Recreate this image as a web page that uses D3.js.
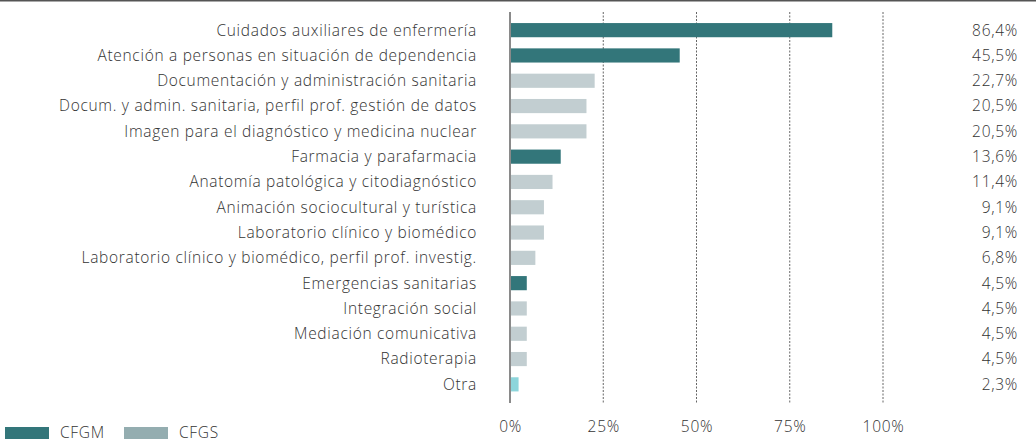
<!DOCTYPE html>
<html>
<head>
<meta charset="utf-8">
<script src="https://cdn.jsdelivr.net/npm/d3@7"></script>
<style>
  html, body { margin: 0; padding: 0; background: #fff; }
  svg { display: block; font-family: "Open Sans", sans-serif; font-weight: 300; }
  svg text { letter-spacing: 0.7px; }
</style>
</head>
<body>
<svg id="chart" width="1036" height="442"></svg>
<script>
// Ciclos formativos: porcentaje por titulación
const categories = [
  "Cuidados auxiliares de enfermería",
  "Atención a personas en situación de dependencia",
  "Documentación y administración sanitaria",
  "Docum. y admin. sanitaria, perfil prof. gestión de datos",
  "Imagen para el diagnóstico y medicina nuclear",
  "Farmacia y parafarmacia",
  "Anatomía patológica y citodiagnóstico",
  "Animación sociocultural y turística",
  "Laboratorio clínico y biomédico",
  "Laboratorio clínico y biomédico, perfil prof. investig.",
  "Emergencias sanitarias",
  "Integración social",
  "Mediación comunicativa",
  "Radioterapia",
  "Otra"
];
const values = [86.4, 45.5, 22.7, 20.5, 20.5, 13.6, 11.4, 9.1, 9.1, 6.8, 4.5, 4.5, 4.5, 4.5, 2.3];
const levels = ["CFGM", "CFGM", "CFGS", "CFGS", "CFGS", "CFGM", "CFGS", "CFGS", "CFGS", "CFGS", "CFGM", "CFGS", "CFGS", "CFGS", "Otra"];
const tickValues = [0, 25, 50, 75, 100];
const legendItems = ["CFGM", "CFGS"];

const barColor = { CFGM: "#33767a", CFGS: "#c2ced1", Otra: "#8dd5db" };
const legendColor = { CFGM: "#33767a", CFGS: "#94adb0" };

const svg = d3.select("#chart");
const W = 1036;

// top rule
svg.append("line").attr("x1", 0).attr("x2", W).attr("y1", 0.75).attr("y2", 0.75)
  .attr("stroke", "#555").attr("stroke-width", 1.5);

const x = d3.scaleLinear().domain([0, 100]).range([510, 883]);
const y = d3.scaleBand().domain(categories).range([17.5, 397]).paddingInner(0.44).paddingOuter(0.22);

const gridTop = 12, gridBottom = 403;

// gridlines
svg.append("g").selectAll("line").data(tickValues.slice(1)).join("line")
  .attr("x1", d => x(d)).attr("x2", d => x(d))
  .attr("y1", gridTop).attr("y2", gridBottom)
  .attr("stroke", "#666").attr("stroke-width", 1)
  .attr("stroke-dasharray", "2,1.5");

// bars
svg.append("g").selectAll("rect").data(categories).join("rect")
  .attr("x", x(0))
  .attr("y", d => y(d))
  .attr("width", (d, i) => x(values[i]) - x(0))
  .attr("height", y.bandwidth())
  .attr("fill", (d, i) => barColor[levels[i]]);

// baseline
svg.append("line").attr("x1", x(0)).attr("x2", x(0))
  .attr("y1", gridTop).attr("y2", gridBottom)
  .attr("stroke", "#8a8a8a").attr("stroke-width", 2);

// category labels
svg.append("g").selectAll("text").data(categories).join("text")
  .attr("x", 477)
  .attr("y", d => y(d) + y.bandwidth() / 2)
  .attr("dy", "0.35em")
  .attr("text-anchor", "end")
  .attr("font-size", 15.5)
  .attr("fill", "#333")
  .text(d => d);

// value labels
const fmt = v => d3.format(".1f")(v).replace(".", ",") + "%";
svg.append("g").selectAll("text").data(values).join("text")
  .attr("x", 1018)
  .attr("y", (d, i) => y(categories[i]) + y.bandwidth() / 2)
  .attr("dy", "0.35em")
  .attr("text-anchor", "end")
  .attr("font-size", 15.5)
  .attr("fill", "#333")
  .text(d => fmt(d));

// axis tick labels
const axis = d3.axisBottom(x).tickValues(tickValues).tickFormat(d => d + "%").tickSize(0).tickPadding(0);
const ax = svg.append("g").attr("transform", "translate(0,421)").call(axis);
ax.select(".domain").remove();
ax.selectAll("text").attr("font-size", 15.5).attr("fill", "#333")
  .attr("font-family", "Open Sans, sans-serif").attr("font-weight", 300);

// legend
const lg = svg.append("g").attr("transform", "translate(5,427)");
const item = lg.selectAll("g").data(legendItems).join("g")
  .attr("transform", (d, i) => `translate(${i * 119},0)`);
item.append("rect").attr("width", 44).attr("height", 12).attr("fill", d => legendColor[d]);
item.append("text").attr("x", 55).attr("y", 6).attr("dy", "0.35em")
  .attr("font-size", 15.5).attr("fill", "#333").text(d => d);
</script>
</body>
</html>
